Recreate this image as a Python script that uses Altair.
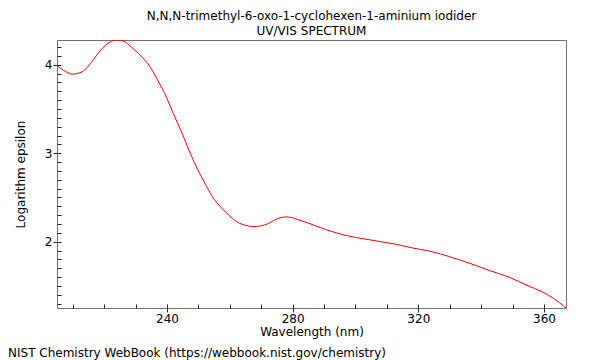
import altair as alt
import pandas as pd

wavelength = [205, 207, 210, 213, 216, 219, 222, 224, 226, 229, 232, 234, 237, 240, 242,
              245, 247.4, 250, 252.7, 255, 258, 260, 263, 265, 267.5, 270, 272, 274, 276,
              278, 280, 282, 285, 288, 292, 297, 303, 308, 313, 318, 324, 330, 336, 343,
              349.5, 355, 359, 363, 367]
log_eps = [3.99, 3.94, 3.895, 3.92, 4.03, 4.17, 4.26, 4.28, 4.27, 4.19, 4.09, 4.01, 3.83, 3.62, 3.45,
           3.21, 3.00, 2.80, 2.62, 2.48, 2.36, 2.29, 2.21, 2.185, 2.17, 2.18, 2.20, 2.24, 2.27,
           2.28, 2.27, 2.245, 2.21, 2.17, 2.12, 2.07, 2.03, 2.00, 1.97, 1.93, 1.89, 1.83, 1.76, 1.67,
           1.59, 1.50, 1.44, 1.36, 1.25]

x_ticks = list(range(210, 370, 10))
y_ticks = [round(1.3 + 0.1 * i, 1) for i in range(30)]

title_lines = ["N,N,N-trimethyl-6-oxo-1-cyclohexen-1-aminium iodider", "UV/VIS SPECTRUM"]
footer = "NIST Chemistry WebBook (https://webbook.nist.gov/chemistry)"

df = pd.DataFrame({"wl": wavelength, "le": log_eps})
FONT = "DejaVu Sans"

W, H = 509, 268
x_major_test = "datum.value % 40 === 0"
y_major_test = "abs(datum.value - round(datum.value)) < 1e-6"

common = dict(grid=False, labelFont=FONT, titleFont=FONT, labelFontSize=12,
              titleFontSize=12, titleFontWeight="normal", domain=False, offset=-4,
              tickColor="#202020", tickWidth=1, labelColor="black", titleColor="black")

line = alt.Chart(df).mark_line(color="#ff0000", strokeWidth=1, interpolate="monotone", clip=True).encode(
    x=alt.X("wl:Q", scale=alt.Scale(domain=[205, 367], nice=False, zero=False),
            axis=alt.Axis(values=x_ticks, title="Wavelength (nm)", format="d",
                          labelExpr=f"{x_major_test} ? datum.label : ''",
                          tickSize={"condition": {"test": x_major_test, "value": 8}, "value": 4},
                          titlePadding=2, labelPadding=1, **common)),
    y=alt.Y("le:Q", scale=alt.Scale(domain=[1.25, 4.28], nice=False, zero=False),
            axis=alt.Axis(values=y_ticks, title="Logarithm epsilon", format=".0f",
                          labelExpr=f"{y_major_test} ? datum.label : ''",
                          tickSize={"condition": {"test": y_major_test, "value": 8}, "value": 4},
                          titlePadding=17, labelPadding=1, **common)),
)

foot = alt.Chart(pd.DataFrame({"t": [footer]})).mark_text(
    align="left", baseline="middle", font=FONT, fontSize=12, color="black"
).encode(x=alt.value(-49), y=alt.value(313), text="t:N")

chart = alt.layer(line, foot).properties(
    width=W, height=H,
    title=alt.TitleParams(text=title_lines, font=FONT, fontSize=12, fontWeight="normal",
                          color="black", anchor="middle", offset=2, lineHeight=15),
    autosize=alt.AutoSizeParams(type="none"),
    padding={"left": 49, "top": 32, "right": 25, "bottom": 52},
).configure_view(stroke="#707070", strokeWidth=1)

chart.save("out.html", embed_options={"renderer": "svg", "actions": False})
